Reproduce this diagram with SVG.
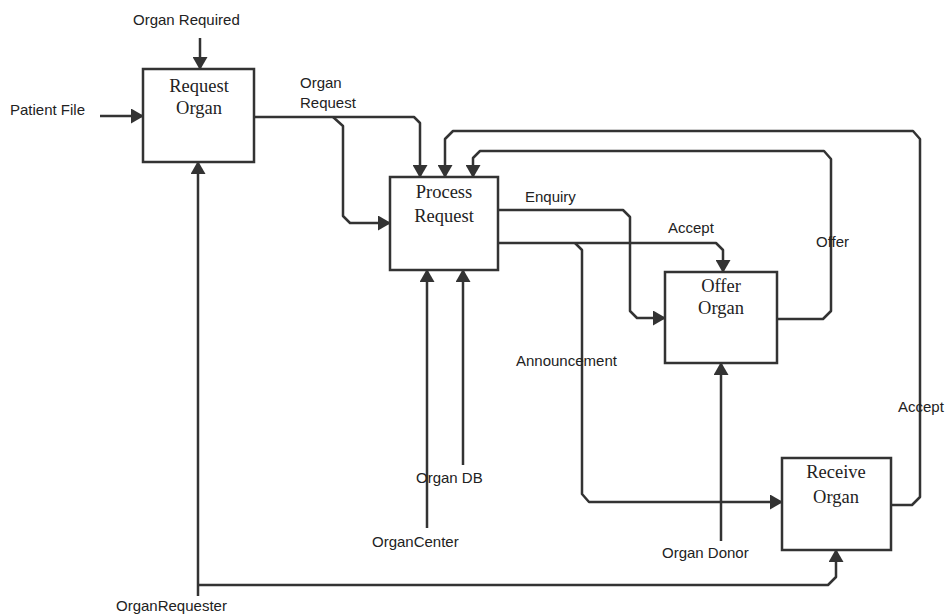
<svg xmlns="http://www.w3.org/2000/svg" width="946" height="616" viewBox="0 0 946 616">
<defs>
<marker id="arr" markerUnits="userSpaceOnUse" markerWidth="14" markerHeight="15" refX="12" refY="7.5" orient="auto">
<path d="M0,0 L13,7.5 L0,15 z" fill="#333"/>
</marker>
<style>
.box{fill:#fff;stroke:#333;stroke-width:2.5}
.bt{font-family:"Liberation Serif","Times New Roman",serif;font-size:18.5px;fill:#222;text-anchor:middle}
.lb{font-family:"Liberation Sans",Arial,sans-serif;font-size:15px;fill:#222}
.c{fill:none;stroke:#333;stroke-width:2.5;stroke-linejoin:round;marker-end:url(#arr)}
</style>
</defs>
<rect width="946" height="616" fill="#fff"/>
<g id="connectors">
<path class="c" d="M200,38 V69"/>
<path class="c" d="M100,116 H143"/>
<path class="c" d="M254,117 H414 L420,123 V177"/>
<path class="c" d="M333,117 L343,126 V216 L350,223 H390"/>
<path class="c" d="M891,505 H912 L920,497 V139 L913,131 H453 L445,139 V177"/>
<path class="c" d="M777,319 H823 L831,311 V159 L824,151 H480 L473,158 V177"/>
<path class="c" d="M498,210 H623 L630,217 V311 L637,318 H665"/>
<path class="c" d="M498,243 H716 L723,250 V272"/>
<path class="c" d="M575,243 L582,250 V494 L589,502 H782"/>
<path class="c" d="M427,528 V270"/>
<path class="c" d="M463,465 V270"/>
<path class="c" d="M721,541 V363"/>
<path class="c" d="M198,596 V162"/>
<path class="c" d="M198,585 H828 L836,577 V550"/>
</g>
<g id="request-organ">
<rect class="box" x="143" y="69" width="111" height="93"/>
<text class="bt" x="199" y="92">Request</text>
<text class="bt" x="199" y="114">Organ</text>
</g>
<g id="process-request">
<rect class="box" x="390" y="177" width="108" height="93"/>
<text class="bt" x="444" y="198">Process</text>
<text class="bt" x="444" y="222">Request</text>
</g>
<g id="offer-organ">
<rect class="box" x="665" y="272" width="112" height="91"/>
<text class="bt" x="721" y="292">Offer</text>
<text class="bt" x="721" y="314">Organ</text>
</g>
<g id="receive-organ">
<rect class="box" x="782" y="458" width="109" height="92"/>
<text class="bt" x="836" y="478">Receive</text>
<text class="bt" x="836" y="503">Organ</text>
</g>
<g id="labels">
<text class="lb" x="133" y="25">Organ Required</text>
<text class="lb" x="10" y="115">Patient File</text>
<text class="lb" x="300" y="88">Organ</text>
<text class="lb" x="300" y="108">Request</text>
<text class="lb" x="525" y="202">Enquiry</text>
<text class="lb" x="668" y="233">Accept</text>
<text class="lb" x="816" y="247">Offer</text>
<text class="lb" x="516" y="366">Announcement</text>
<text class="lb" x="416" y="483">Organ DB</text>
<text class="lb" x="372" y="547">OrganCenter</text>
<text class="lb" x="662" y="558">Organ Donor</text>
<text class="lb" x="898" y="412">Accept</text>
<text class="lb" x="116" y="611">OrganRequester</text>
</g>
</svg>
